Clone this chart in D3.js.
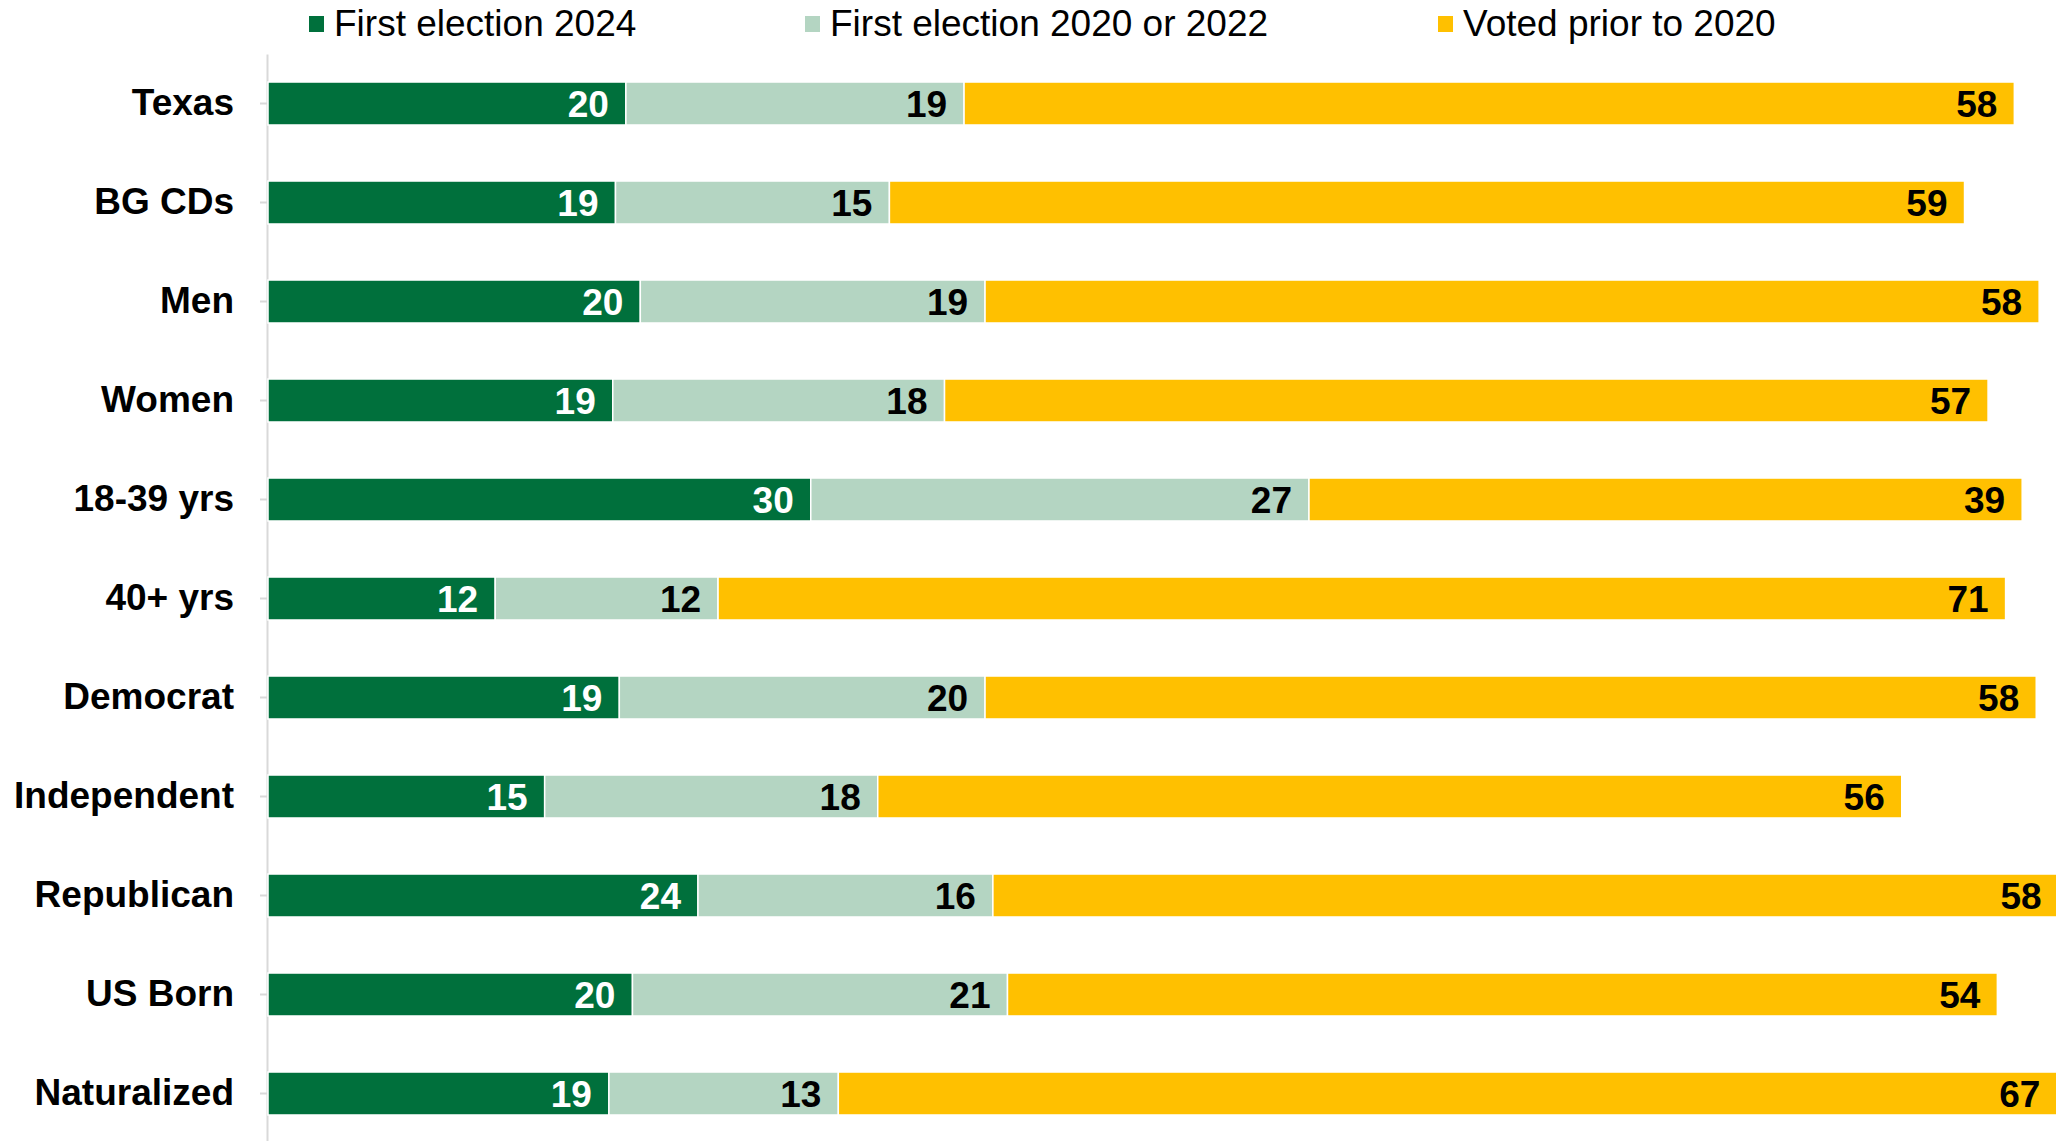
<!DOCTYPE html>
<html>
<head>
<meta charset="utf-8">
<script src="https://cdn.jsdelivr.net/npm/d3@7"></script>
<style>
  html, body { margin: 0; padding: 0; background: #fff; overflow: hidden; }
  svg { display: block; font-family: "Liberation Sans", Arial, sans-serif; }
</style>
</head>
<body>
<svg id="chart" width="2056" height="1141"></svg>
<script>
// ---- data ----
const categories = ["Texas", "BG CDs", "Men", "Women", "18-39 yrs", "40+ yrs",
  "Democrat", "Independent", "Republican", "US Born", "Naturalized"];
const seriesNames = ["First election 2024", "First election 2020 or 2022", "Voted prior to 2020"];
const firstElection2024 = [19.61, 19.04, 20.40, 18.89, 29.74, 12.45, 19.25, 15.16, 23.56, 19.97, 18.68];
const firstElection2020or2022 = [18.53, 15.01, 18.89, 18.18, 27.30, 12.21, 20.04, 18.25, 16.16, 20.55, 12.57];
const votedPriorTo2020 = [57.55, 58.91, 57.76, 57.18, 39.08, 70.55, 57.60, 56.11, 58.40, 54.24, 66.80];
const seriesColors = ["#00703C", "#B4D5C2", "#FFC000"];
const labelColors = ["#ffffff", "#000000", "#000000"];

// ---- layout ----
const svg = d3.select("#chart");
const x = d3.scaleLinear().domain([0, 100]).range([268, 268 + 1825]);
const y = d3.scaleBand().domain(categories).range([54, 1143])
  .paddingInner(0.566).paddingOuter(0.283);

const table = categories.map((c, i) => ({
  category: c,
  s0: firstElection2024[i],
  s1: firstElection2020or2022[i],
  s2: votedPriorTo2020[i]
}));
const stack = d3.stack().keys(["s0", "s1", "s2"]);
const layers = stack(table);

// axis
const axis = d3.axisLeft(y).tickSize(7).tickSizeOuter(0).tickPadding(26);
const gAxis = svg.append("g").attr("transform", "translate(267,0)").call(axis);
gAxis.select(".domain").attr("stroke", "#d9d9d9").attr("stroke-width", 2);
gAxis.selectAll(".tick line").attr("stroke", "#d9d9d9").attr("stroke-width", 2);
gAxis.selectAll(".tick text")
  .attr("fill", "#000").attr("font-size", 37).attr("font-weight", "bold")
  .attr("font-family", "Liberation Sans, Arial, sans-serif");

// bars
const fmt = d3.format(".0f");
layers.forEach((layer, li) => {
  const g = svg.append("g");
  g.selectAll("rect").data(layer).enter().append("rect")
    .attr("x", d => x(d[0]))
    .attr("y", d => y(d.data.category))
    .attr("width", d => x(d[1]) - x(d[0]))
    .attr("height", y.bandwidth())
    .attr("fill", seriesColors[li])
    .attr("stroke", "#ffffff")
    .attr("stroke-width", 1.5);
  g.selectAll("text").data(layer).enter().append("text")
    .attr("x", d => x(d[1]) - 17)
    .attr("y", d => y(d.data.category) + y.bandwidth() / 2)
    .attr("dy", "0.36em")
    .attr("text-anchor", "end")
    .attr("font-size", 37)
    .attr("font-weight", "bold")
    .attr("fill", labelColors[li])
    .text(d => fmt(d[1] - d[0]));
});

// legend
const legendX = [309, 805, 1438];
const legend = svg.append("g");
seriesNames.forEach((name, i) => {
  legend.append("rect")
    .attr("x", legendX[i]).attr("y", 16)
    .attr("width", 15).attr("height", 16)
    .attr("fill", seriesColors[i]);
  legend.append("text")
    .attr("x", legendX[i] + 25).attr("y", 35.5)
    .attr("font-size", 37)
    .attr("fill", "#000")
    .text(name);
});
</script>
</body>
</html>
